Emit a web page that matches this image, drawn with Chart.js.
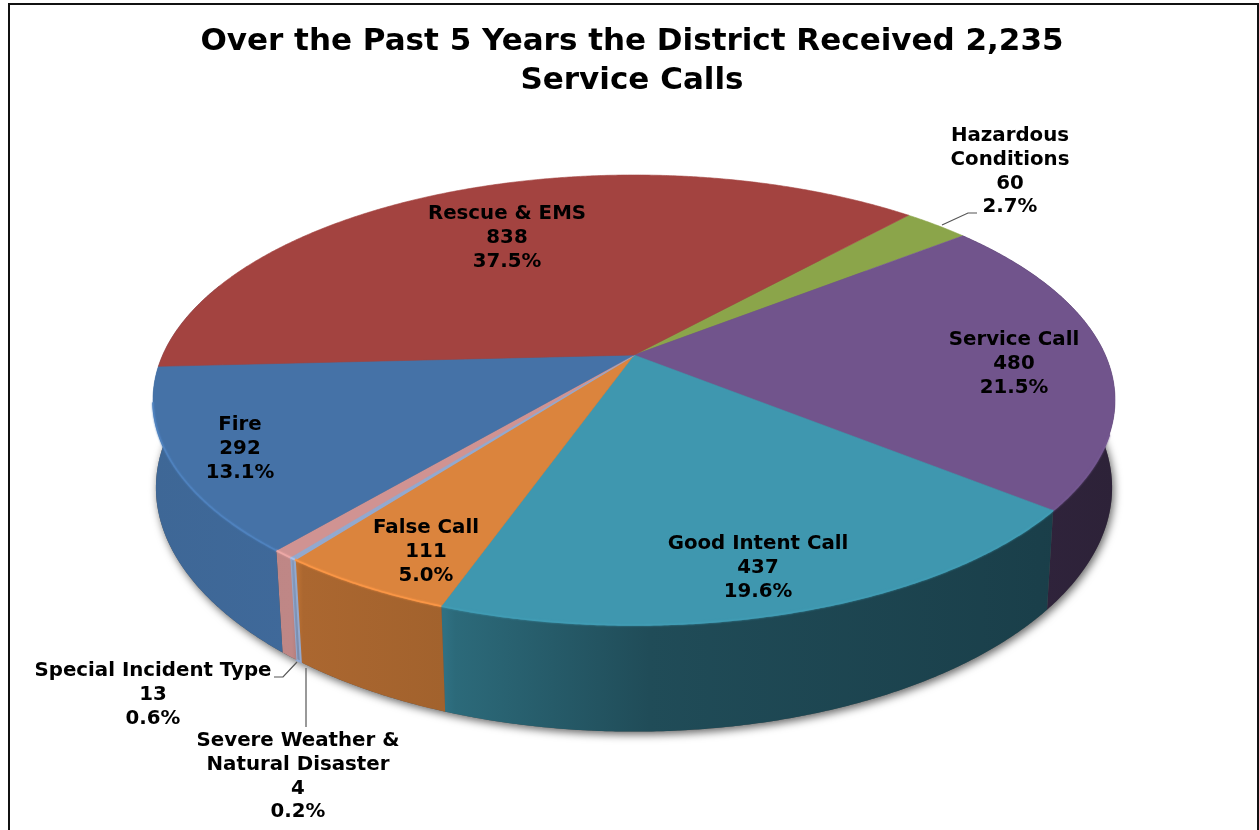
<!DOCTYPE html>
<html>
<head>
<meta charset="utf-8">
<title>Service Calls</title>
<script src="https://cdn.jsdelivr.net/npm/chart.js@4"></script>
<style>
  html, body { margin: 0; padding: 0; background: #fff; }
  canvas { display: block; }
</style>
</head>
<body>
<canvas id="callsChart" width="1259" height="830"></canvas>
<script>
// ---------- Data ----------
const titleLines = ["Over the Past 5 Years the District Received 2,235", "Service Calls"];
const categories = [
  ["Hazardous", "Conditions"],
  ["Service Call"],
  ["Good Intent Call"],
  ["False Call"],
  ["Severe Weather &", "Natural Disaster"],
  ["Special Incident Type"],
  ["Fire"],
  ["Rescue & EMS"],
];
const calls = [60, 480, 437, 111, 4, 13, 292, 838];
const percents = ["2.7%", "21.5%", "19.6%", "5.0%", "0.2%", "0.6%", "13.1%", "37.5%"];
const colors = ["#8BA54A", "#71548C", "#3F97AF", "#DB843D", "#93A9CF", "#D09392", "#4572A7", "#A34340"];

// ---------- Label placement ----------
const labelAnchors = [
  [1010, 136], [1014, 340], [758, 544], [426, 528],
  [298, 741], [153, 671], [240, 425], [507, 214],
];
const leaders = [
  [[942, 225], [968, 213], [977, 213]],
  [[297, 662], [283, 677], [274, 677]],
  [[306, 668], [306, 727]],
];

// ---------- Perspective of the pie ----------
const CX = 634, CY = 355, RX = 471.3, RY = 216, TILT = -0.2;

function topPoint(a) {
  const u = Math.cos(a), v = Math.sin(a);
  const w = 1 + TILT * v;
  return [CX + RX * u / w, CY + RY * v / w];
}

function basePoint(a) {
  const p = topPoint(a);
  const u = Math.cos(a);
  const s = 0.98 + 0.015 * u * u * u * u;
  const depth = 86 + 26 * Math.sin(a);
  return [CX + (p[0] - CX) * s, CY + (p[1] - CY) * 0.98 + depth];
}

function arcPoints(fn, start, end) {
  const pts = [];
  const n = Math.max(2, Math.ceil((end - start) / 0.006));
  for (let i = 0; i <= n; i++) pts.push(fn(start + (end - start) * i / n));
  return pts;
}

function tracePath(ctx, pts) {
  ctx.beginPath();
  pts.forEach((p, i) => (i ? ctx.lineTo(p[0], p[1]) : ctx.moveTo(p[0], p[1])));
  ctx.closePath();
}

function shade(hex, k) {
  const n = parseInt(hex.slice(1), 16);
  const c = [n >> 16, (n >> 8) & 255, n & 255].map((x) => Math.round(Math.min(255, x * k)));
  return `rgb(${c[0]},${c[1]},${c[2]})`;
}

// light falling on the side wall, left to right across the pie
const wallLight = [[150, 0.9], [292, 0.92], [303, 0.78], [445, 0.74], [455, 0.7], [650, 0.5], [1040, 0.42], [1115, 0.4]];

function wallGradient(ctx, color) {
  const x0 = wallLight[0][0], x1 = wallLight[wallLight.length - 1][0];
  const g = ctx.createLinearGradient(x0, 0, x1, 0);
  wallLight.forEach(([x, k]) => g.addColorStop((x - x0) / (x1 - x0), shade(color, k)));
  return g;
}

// a slice whose middle sits behind the pie shows no wall
function isBack(arc) {
  return Math.sin((arc.startAngle + arc.endAngle) / 2) < -0.3;
}

const pie3d = {
  id: "pie3d",
  beforeDatasetsDraw(chart) {
    const ctx = chart.ctx;
    const arcs = chart.getDatasetMeta(0).data;

    // soft shadow under the pie
    ctx.save();
    ctx.shadowColor = "rgba(0,0,0,0.6)";
    ctx.shadowBlur = 9;
    ctx.shadowOffsetY = 3;
    ctx.shadowOffsetX = 2;
    ctx.fillStyle = "#555";
    tracePath(ctx, arcPoints(basePoint, 0, Math.PI * 2));
    ctx.fill();
    ctx.restore();

    // side walls
    arcs.forEach((arc, i) => {
      if (isBack(arc)) return;
      const next = arcs[(i + 1) % arcs.length];
      const end = isBack(next) ? arc.endAngle + 0.4 : arc.endAngle;
      const top = arcPoints(topPoint, arc.startAngle, end);
      const base = arcPoints(basePoint, arc.startAngle, end).reverse();
      tracePath(ctx, top.concat(base));
      ctx.fillStyle = wallGradient(ctx, colors[i]);
      ctx.fill();
      // very thin slices get a stroke so they stay visible
      if (arc.endAngle - arc.startAngle < 0.02) {
        ctx.strokeStyle = colors[i];
        ctx.lineWidth = 2;
        ctx.stroke();
      }
    });

    // top faces
    arcs.forEach((arc, i) => {
      const pts = [[CX, CY]].concat(arcPoints(topPoint, arc.startAngle, arc.endAngle));
      tracePath(ctx, pts);
      ctx.fillStyle = colors[i];
      ctx.fill();
      ctx.strokeStyle = colors[i];
      ctx.lineWidth = arc.endAngle - arc.startAngle < 0.02 ? 2 : 0.6;
      ctx.stroke();
    });

    // lighter rim along the front edge, strongest on the lit left side
    arcs.forEach((arc, i) => {
      const start = Math.max(arc.startAngle, 0.35), end = Math.min(arc.endAngle, 2.93);
      if (end <= start) return;
      const rim = arcPoints(topPoint, start, end);
      ctx.save();
      ctx.beginPath();
      rim.forEach((p, j) => (j ? ctx.lineTo(p[0], p[1]) : ctx.moveTo(p[0], p[1])));
      ctx.strokeStyle = shade(colors[i], Math.cos((start + end) / 2) < -0.2 ? 1.14 : 1.03);
      ctx.shadowColor = ctx.strokeStyle;
      ctx.shadowBlur = 2;
      ctx.lineWidth = 1.6;
      ctx.stroke();
      ctx.restore();
    });
    return false;
  },
  afterDraw(chart) {
    const ctx = chart.ctx;
    ctx.save();

    // frame
    ctx.strokeStyle = "#111";
    ctx.lineWidth = 2;
    ctx.beginPath();
    ctx.moveTo(9, 830);
    ctx.lineTo(9, 4);
    ctx.lineTo(1258, 4);
    ctx.lineTo(1258, 830);
    ctx.stroke();

    // leader lines
    ctx.strokeStyle = "#555";
    ctx.lineWidth = 1.2;
    leaders.forEach((line) => {
      ctx.beginPath();
      line.forEach((p, i) => (i ? ctx.lineTo(p[0], p[1]) : ctx.moveTo(p[0], p[1])));
      ctx.stroke();
    });

    // data labels
    ctx.fillStyle = "#000";
    ctx.font = "bold 19.8px 'DejaVu Sans'";
    ctx.textAlign = "center";
    ctx.textBaseline = "middle";
    categories.forEach((name, i) => {
      const lines = name.concat([String(calls[i]), percents[i]]);
      lines.forEach((text, j) => {
        ctx.fillText(text, labelAnchors[i][0], labelAnchors[i][1] + j * 23.7);
      });
    });
    ctx.restore();
  },
};

// ---------- Chart ----------
new Chart(document.getElementById("callsChart"), {
  type: "pie",
  data: {
    labels: categories.map((c) => c.join(" ")),
    datasets: [{ data: calls, backgroundColor: colors, borderWidth: 0 }],
  },
  options: {
    responsive: false,
    animation: false,
    rotation: 42,
    layout: { padding: { left: 5 } },
    plugins: {
      legend: { display: false },
      tooltip: { enabled: false },
      title: {
        display: true,
        text: titleLines,
        color: "#000",
        font: { family: "'DejaVu Sans'", size: 31, weight: "bold", lineHeight: 1.26 },
        padding: { top: 22, bottom: 0 },
      },
    },
  },
  plugins: [pie3d],
});
</script>
</body>
</html>
